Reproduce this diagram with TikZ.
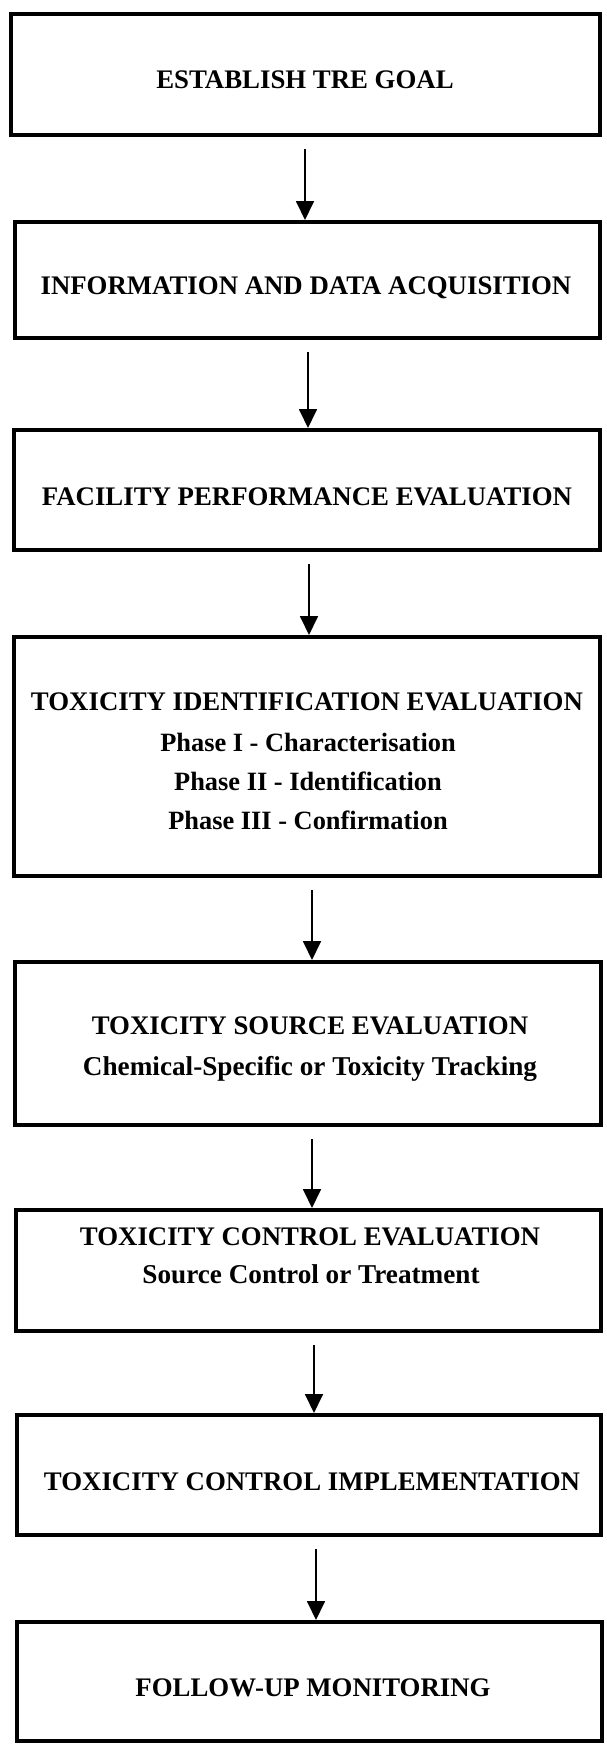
\documentclass[tikz,border=0pt]{standalone}
\usepackage{fontspec}
\setmainfont{Liberation Serif}
\usetikzlibrary{arrows.meta}
\begin{document}
\begin{tikzpicture}[x=1pt,y=-1pt,
  stepbox/.style={draw, line width=4.2pt, inner sep=0pt},
  head/.style={anchor=base, inner sep=0pt, font=\fontsize{26.8}{28}\selectfont\bfseries},
  sub/.style={anchor=base, inner sep=0pt, font=\fontsize{27.2}{28}\selectfont\bfseries},
  phase/.style={anchor=base, inner sep=0pt, font=\fontsize{26.4}{28}\selectfont\bfseries},
  arr/.style={line width=1.8pt, -{Triangle[length=19pt,width=18pt]}}]
\useasboundingbox (0,0) rectangle (607,1749);
\newcommand{\mybox}[5]{\node[stepbox, minimum width={#3-#2-4.2pt}, minimum height={#5-#4-4.2pt}] (#1) at ({(#2+#3)/2},{(#4+#5)/2}) {};}
\mybox{b1}{9}{602}{12}{137}
\mybox{b2}{13}{602}{220}{340}
\mybox{b3}{12}{602}{428}{552}
\mybox{b4}{12}{602}{635}{878}
\mybox{b5}{13}{603}{960}{1127}
\mybox{b6}{14}{603}{1208}{1333}
\mybox{b7}{15}{603}{1413}{1537}
\mybox{b8}{15}{604}{1620}{1743}
% texts
\node[head] (t1) at (305,88) {ESTABLISH TRE GOAL};
\node[head] (t2) at (306,294) {INFORMATION AND DATA ACQUISITION};
\node[head] (t3) at (307,505) {FACILITY PERFORMANCE EVALUATION};
\node[head] (t4a) at (307,710) {TOXICITY IDENTIFICATION EVALUATION};
\node[phase] (t4b) at (308,751) {Phase I - Characterisation};
\node[phase] (t4c) at (308,790) {Phase II - Identification};
\node[phase] (t4d) at (308,829) {Phase III - Confirmation};
\node[head] (t5a) at (310,1034) {TOXICITY SOURCE EVALUATION};
\node[sub] (t5b) at (310,1075) {Chemical-Specific or Toxicity Tracking};
\node[head] (t6a) at (310,1245) {TOXICITY CONTROL EVALUATION};
\node[sub] (t6b) at (311,1283) {Source Control or Treatment};
\node[head] (t7) at (312,1490) {TOXICITY CONTROL IMPLEMENTATION};
\node[head] (t8) at (313,1696) {FOLLOW-UP MONITORING};
% arrows
\coordinate (a1) at (305,0);
\coordinate (a2) at (308,0);
\coordinate (a3) at (309,0);
\coordinate (a4) at (312,0);
\coordinate (a5) at (312,0);
\coordinate (a6) at (314,0);
\coordinate (a7) at (316,0);
\draw[arr] ([yshift=-12pt]b1.south -| a1) -- (b2.north -| a1);
\draw[arr] ([yshift=-12pt]b2.south -| a2) -- (b3.north -| a2);
\draw[arr] ([yshift=-12pt]b3.south -| a3) -- (b4.north -| a3);
\draw[arr] ([yshift=-12pt]b4.south -| a4) -- (b5.north -| a4);
\draw[arr] ([yshift=-12pt]b5.south -| a5) -- (b6.north -| a5);
\draw[arr] ([yshift=-12pt]b6.south -| a6) -- (b7.north -| a6);
\draw[arr] ([yshift=-12pt]b7.south -| a7) -- (b8.north -| a7);
\end{tikzpicture}
\end{document}
